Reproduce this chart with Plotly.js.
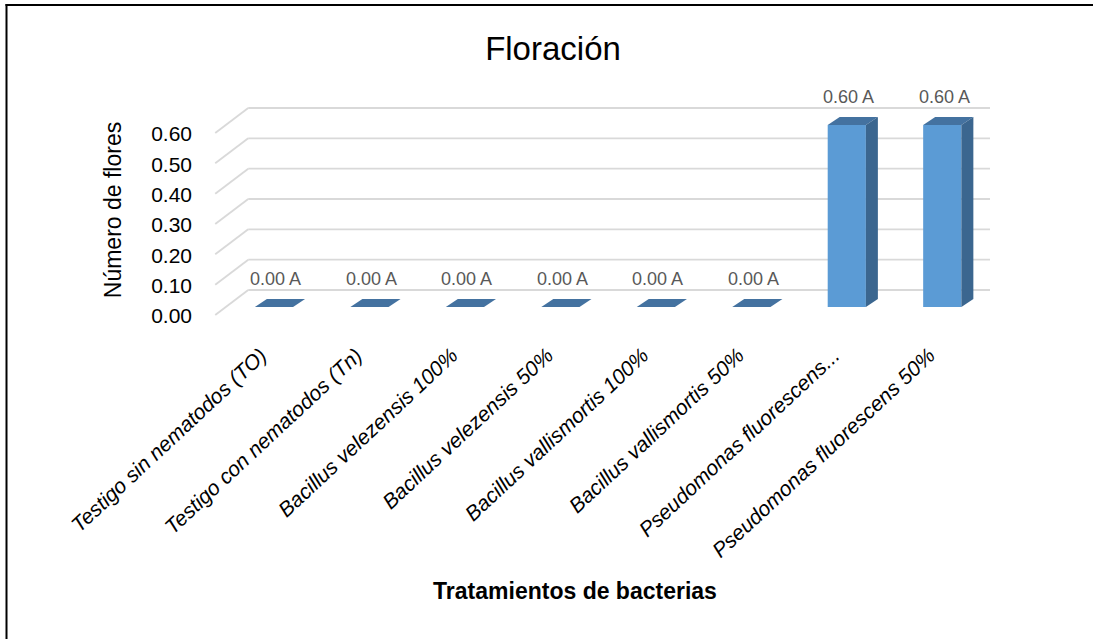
<!DOCTYPE html>
<html><head><meta charset="utf-8">
<script src="https://cdn.plot.ly/plotly-3.0.1.min.js"></script>
<style>html,body{margin:0;padding:0;background:#fff;overflow:hidden;} #chart{width:1093px;height:639px;}</style>
</head><body><div id="chart"></div>
<script>
// ---- data ----
const categories = ["Testigo sin nematodos (TO)", "Testigo con nematodos (Tn)", "Bacillus velezensis 100%", "Bacillus velezensis 50%", "Bacillus vallismortis 100%", "Bacillus vallismortis 50%", "Pseudomonas fluorescens...", "Pseudomonas fluorescens 50%"];
const values = [0.00, 0.00, 0.00, 0.00, 0.00, 0.00, 0.60, 0.60];
const letters = ["A", "A", "A", "A", "A", "A", "A", "A"];
const yTicks = [0.0, 0.1, 0.2, 0.3, 0.4, 0.5, 0.6];
const chartTitle = "Floración";
const xTitle = "Tratamientos de bacterias";
const yTitle = "Número de flores";

// ---- layout geometry ----
const W = 1093, H = 639;
const plotL = 160, plotR = 990, plotT = 100, plotB = 320;
const xRange = [-1.1937, 7.5];
const yRange = [-0.0429, 0.6824];
const catPx = (plotR - plotL) / (xRange[1] - xRange[0]);
const ppu = (plotB - plotT) / (yRange[1] - yRange[0]);
const yLabelShift = 9 / ppu;
const xLabelShift = 13 / catPx;
const barWidth = 0.4;
const hw = barWidth / 2 * catPx;
const depthX = 12, depthY = 8;
const FONT = "Liberation Sans, Arial, sans-serif";
const frontColor = "#5B9BD5", topColor = "#4472A0", sideColor = "#3B668F", gridColor = "#D9D9D9";

const px2paperX = p => (p - plotL) / (plotR - plotL);
const px2paperY = p => (plotB - p) / (plotB - plotT);

const shapes = [];
// gridlines (3D back wall + floor diagonals)
yTicks.forEach(t => {
  shapes.push({type: "path", layer: "below", xref: "x", yref: "y", xsizemode: "pixel", ysizemode: "pixel",
    xanchor: -0.5, yanchor: t, path: "M -11,-8 L 22,17", line: {color: gridColor, width: 1.8}});
  shapes.push({type: "line", layer: "below", xref: "x", yref: "y", ysizemode: "pixel", yanchor: t,
    x0: -0.5 + 22 / catPx, x1: 7.5 + 21 / catPx, y0: 17, y1: 17, line: {color: gridColor, width: 1.8}});
});
// 3D bar faces
values.forEach((v, i) => {
  const h = v * ppu;
  shapes.push({type: "path", layer: "above", xref: "x", yref: "y", xsizemode: "pixel", ysizemode: "pixel",
    xanchor: i, yanchor: v,
    path: `M ${-hw},0 L ${hw},0 L ${hw + depthX},${depthY} L ${-hw + depthX},${depthY} Z`,
    fillcolor: topColor, line: {width: 0}});
  if (v > 0) {
    shapes.push({type: "path", layer: "above", xref: "x", yref: "y", xsizemode: "pixel", ysizemode: "pixel",
      xanchor: i, yanchor: v,
      path: `M ${hw},0 L ${hw + depthX},${depthY} L ${hw + depthX},${depthY - h} L ${hw},${-h} Z`,
      fillcolor: sideColor, line: {width: 0}});
  }
});
// chart border (top and left edges)
shapes.push({type: "line", xref: "paper", yref: "paper", x0: px2paperX(5.5), x1: px2paperX(W), y0: px2paperY(5), y1: px2paperY(5), line: {color: "#000", width: 2}});
shapes.push({type: "line", xref: "paper", yref: "paper", x0: px2paperX(6.5), x1: px2paperX(6.5), y0: px2paperY(4), y1: px2paperY(H), line: {color: "#000", width: 2}});

const annotations = values.map((v, i) => ({
  x: i, y: v, xref: "x", yref: "y", text: v.toFixed(2) + " " + letters[i], showarrow: false,
  yshift: 28, xshift: 2, font: {family: FONT, size: 18, color: "#595959"}
}));

const traces = [
  {type: "bar", x: categories, y: values, width: barWidth, marker: {color: frontColor, line: {width: 0}},
   hoverinfo: "x+y", showlegend: false, xaxis: "x", yaxis: "y"},
  {type: "scatter", mode: "markers", x: categories, y: values, marker: {opacity: 0}, hoverinfo: "skip",
   showlegend: false, xaxis: "x2", yaxis: "y2"}
];

const layout = {
  width: W, height: H,
  margin: {l: plotL, r: W - plotR, t: plotT, b: H - plotB, autoexpand: false},
  paper_bgcolor: "#fff", plot_bgcolor: "rgba(0,0,0,0)",
  showlegend: false,
  title: {text: chartTitle, x: 553 / W, xref: "container", xanchor: "center", y: 1 - 48 / H, yref: "container", yanchor: "middle",
          font: {family: FONT, size: 33, color: "#000"}},
  xaxis: {type: "category", range: xRange, showticklabels: false, ticks: "", showline: false, showgrid: false, zeroline: false},
  xaxis2: {type: "category", overlaying: "x", anchor: "y", side: "bottom",
           range: [xRange[0] + xLabelShift, xRange[1] + xLabelShift], tickangle: -43, automargin: false,
           tickfont: {family: FONT, size: 21, color: "#000", style: "italic"},
           ticks: "outside", ticklen: 14, tickcolor: "rgba(0,0,0,0)", showline: false, showgrid: false, zeroline: false,
           title: {text: xTitle, standoff: 22, font: {family: FONT, size: 23, color: "#000", weight: "bold"}}},
  yaxis: {range: yRange, showticklabels: false, showgrid: false, zeroline: false, showline: false, ticks: ""},
  yaxis2: {overlaying: "y", side: "left", anchor: "free", position: px2paperX(192), automargin: false,
           range: [yRange[0] + yLabelShift, yRange[1] + yLabelShift], tickvals: yTicks, tickformat: ".2f",
           ticks: "", showgrid: false, zeroline: false, showline: false,
           tickfont: {family: FONT, size: 21, color: "#000"},
           title: {text: yTitle, standoff: 22, font: {family: FONT, size: 23, color: "#000"}}},
  shapes: shapes,
  annotations: annotations
};

Plotly.newPlot("chart", traces, layout, {displayModeBar: false, staticPlot: true});
</script>
</body></html>
